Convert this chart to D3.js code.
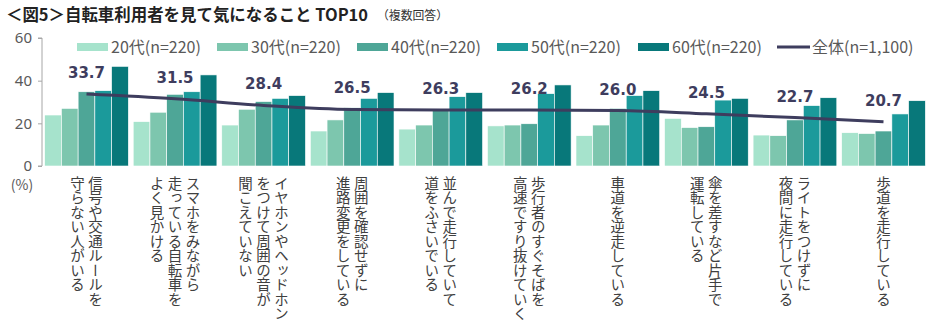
<!DOCTYPE html>
<html>
<head>
<meta charset="utf-8">
<script src="https://cdn.jsdelivr.net/npm/d3@7"></script>
<style>
  body { margin: 0; background: #fff; }
  svg text { font-family: "Noto Sans CJK JP", "Noto Sans", sans-serif; }
</style>
</head>
<body>
<div id="chart"></div>
<script>
var categories = [
  ["信号や交通ルールを", "守らない人がいる"],
  ["スマホをみながら", "走っている自転車を", "よく見かける"],
  ["イヤホンやヘッドホン", "をつけて周囲の音が", "聞こえていない"],
  ["周囲を確認せずに", "進路変更をしている"],
  ["並んで走行していて", "道をふさいでいる"],
  ["歩行者のすぐそばを", "高速ですり抜けていく"],
  ["車道を逆走している"],
  ["傘を差すなど片手で", "運転している"],
  ["ライトをつけずに", "夜間に走行している"],
  ["歩道を走行している"]
];
var seriesNames = ["20代(n=220)", "30代(n=220)", "40代(n=220)", "50代(n=220)", "60代(n=220)"];
var age20 = [23.9, 20.8, 19.2, 16.4, 17.3, 18.8, 14.2, 22.3, 14.5, 15.6];
var age30 = [27.0, 25.2, 26.6, 21.6, 19.2, 19.2, 19.2, 18.0, 14.2, 15.2];
var age40 = [34.8, 33.6, 30.2, 27.3, 26.3, 19.8, 27.0, 18.4, 21.6, 16.4];
var age50 = [35.3, 34.8, 31.7, 31.7, 32.5, 33.9, 33.0, 30.9, 28.3, 24.4];
var age60 = [46.7, 42.7, 33.0, 34.4, 34.4, 38.0, 35.3, 31.7, 32.0, 30.6];
var totalName = "全体(n=1,100)";
var total = [33.7, 31.5, 28.4, 26.5, 26.3, 26.2, 26.0, 24.5, 22.7, 20.7];
var yTicks = [0, 20, 40, 60];

var colors = ["#a6e3cc", "#7dc6ae", "#4ea697", "#1b9a9b", "#08787a"];
var lineColor = "#3e3d5e";
var seriesValues = [age20, age30, age40, age50, age60];

var width = 934, height = 328;
var svg = d3.select("#chart").append("svg")
  .attr("width", width)
  .attr("height", height);

// title
svg.append("text")
  .attr("x", 6)
  .attr("y", 21)
  .attr("fill", "#222")
  .attr("font-size", 16.5)
  .attr("font-weight", "bold")
  .attr("textLength", 362)
  .attr("lengthAdjust", "spacingAndGlyphs")
  .text("＜図5＞自転車利用者を見て気になること TOP10");
svg.append("text")
  .attr("x", 377)
  .attr("y", 20)
  .attr("fill", "#333")
  .attr("font-size", 12)
  .attr("textLength", 71)
  .attr("lengthAdjust", "spacingAndGlyphs")
  .text("（複数回答）");

var idx = d3.range(categories.length);
var x = d3.scaleBand().domain(idx).range([42, 928]).paddingInner(0.055).paddingOuter(0.03);
var xs = d3.scaleBand().domain(d3.range(seriesNames.length)).range([0, x.bandwidth()]);
var y = d3.scaleLinear().domain([0, 60]).range([166, 38]);

// y axis
var yAxis = svg.append("g")
  .attr("transform", "translate(42,0)")
  .call(d3.axisLeft(y).tickValues(yTicks).tickSize(4).tickPadding(6));
yAxis.select(".domain").attr("stroke", "#a6a6a6").attr("d", "M-4,38H0V166H-4");
yAxis.selectAll(".tick line").attr("stroke", "#a6a6a6");
yAxis.selectAll(".tick text")
  .attr("fill", "#595959")
  .style("font-size", "15px")
  .style("font-family", "'Noto Sans', sans-serif");

svg.append("text")
  .attr("x", 22)
  .attr("y", 190)
  .attr("text-anchor", "middle")
  .attr("fill", "#595959")
  .style("font-size", "14px")
  .text("(%)");

// bars
var groups = svg.selectAll("g.grp")
  .data(idx)
  .enter()
  .append("g")
  .attr("class", "grp")
  .attr("transform", function(i){ return "translate(" + x(i) + ",0)"; });

groups.selectAll("rect")
  .data(function(i){
    return seriesValues.map(function(s, k){ return {k: k, v: s[i]}; });
  })
  .enter()
  .append("rect")
  .attr("x", function(d){ return xs(d.k); })
  .attr("y", function(d){ return y(d.v); })
  .attr("width", xs.bandwidth())
  .attr("height", function(d){ return y(0) - y(d.v); })
  .attr("fill", function(d){ return colors[d.k]; })
  .attr("stroke", "#fff")
  .attr("stroke-width", 0.6);

// total line
var line = d3.line()
  .x(function(d, i){ return x(i) + x.bandwidth() / 2; })
  .y(function(d){ return y(d); })
  .curve(d3.curveMonotoneX);

svg.append("path")
  .datum(total)
  .attr("d", line)
  .attr("fill", "none")
  .attr("stroke", lineColor)
  .attr("stroke-width", 3);

svg.selectAll("text.val")
  .data(total)
  .enter()
  .append("text")
  .attr("class", "val")
  .attr("x", function(d, i){ return x(i) + x.bandwidth() / 2; })
  .attr("y", function(d){ return y(d) - 16; })
  .attr("text-anchor", "middle")
  .attr("fill", lineColor)
  .style("font-size", "15px")
  .style("font-weight", "bold")
  .style("font-family", "Verdana, 'DejaVu Sans', sans-serif")
  .text(function(d){ return d.toFixed(1); });

// category labels, vertical
groups.each(function(i){
  var lines = categories[i];
  var g = d3.select(this);
  var step = 18;
  var cx = x.bandwidth() / 2;
  lines.forEach(function(t, j){
    g.append("text")
      .attr("x", cx + ((lines.length - 1) / 2 - j) * step)
      .attr("y", 176)
      .attr("fill", "#404040")
      .style("font-size", "14.5px")
      .style("writing-mode", "vertical-rl")
      .style("text-orientation", "mixed")
      .text(t);
  });
});

// legend
var legendX = [77, 217, 357, 497, 638];
var legend = svg.append("g");
seriesNames.forEach(function(name, k){
  legend.append("rect")
    .attr("x", legendX[k])
    .attr("y", 43)
    .attr("width", 31)
    .attr("height", 8)
    .attr("fill", colors[k]);
  legend.append("text")
    .attr("x", legendX[k] + 34)
    .attr("y", 53)
    .attr("fill", "#595959")
    .style("font-size", "16px")
    .text(name);
});
legend.append("line")
  .attr("x1", 777).attr("x2", 810)
  .attr("y1", 47).attr("y2", 47)
  .attr("stroke", lineColor)
  .attr("stroke-width", 3);
legend.append("text")
  .attr("x", 812)
  .attr("y", 53)
  .attr("fill", "#595959")
  .style("font-size", "16px")
  .text(totalName);
</script>
</body>
</html>
